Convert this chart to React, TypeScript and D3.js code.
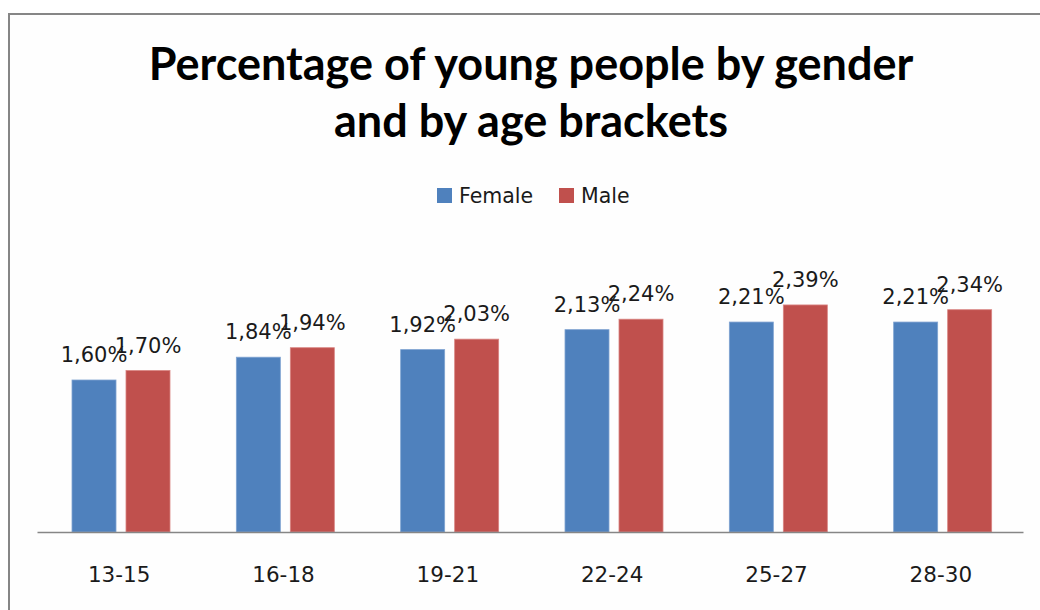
import * as d3 from "d3";
import { useEffect, useRef } from "react";

const categories = ["13-15", "16-18", "19-21", "22-24", "25-27", "28-30"];
const seriesNames = ["Female", "Male"];
const female = [1.6, 1.84, 1.92, 2.13, 2.21, 2.21];
const male = [1.7, 1.94, 2.03, 2.24, 2.39, 2.34];
const colors = ["#4F81BD", "#C0504D"];
const titleLines = ["Percentage of young people by gender", "and by age brackets"];

const fmt = (v: number) => v.toFixed(2).replace(".", ",") + "%";

export default function App() {
  const ref = useRef<SVGSVGElement>(null);

  useEffect(() => {
    if (!ref.current) return;
    const svg = d3.select(ref.current);
    svg.selectAll("*").remove();

    const width = 1040;
    const height = 610;
    const font = "'DejaVu Sans', sans-serif";

    svg.append("rect").attr("width", width).attr("height", height).attr("fill", "#fff");
    svg
      .append("rect")
      .attr("x", 9)
      .attr("y", 14)
      .attr("width", 1100)
      .attr("height", 700)
      .attr("fill", "#fefefe")
      .attr("stroke", "#868686")
      .attr("stroke-width", 2);

    // title
    svg
      .append("g")
      .selectAll("text")
      .data(titleLines)
      .join("text")
      .attr("x", 531)
      .attr("y", (_, i) => 80 + i * 57)
      .attr("text-anchor", "middle")
      .attr("font-family", "Lato, sans-serif")
      .attr("font-weight", "bold")
      .attr("font-size", 45)
      .attr("fill", "#000")
      .text((d) => d);

    const x0 = d3.scaleBand().domain(categories).range([37, 1023]).padding(0);
    const x1 = d3.scaleBand().domain(seriesNames).range([35, 133]).paddingInner(0.185);
    const y = d3.scaleLinear().domain([0, 3]).range([532, 247]);

    const rows = categories.map((c, i) => ({ cat: c, vals: [female[i], male[i]] }));

    const groups = svg
      .append("g")
      .selectAll("g")
      .data(rows)
      .join("g")
      .attr("transform", (d) => `translate(${x0(d.cat)},0)`);

    groups
      .selectAll("rect")
      .data((d) => d.vals.map((v, j) => ({ key: seriesNames[j], v, j })))
      .join("rect")
      .attr("x", (d) => x1(d.key) ?? 0)
      .attr("y", (d) => y(d.v))
      .attr("width", x1.bandwidth())
      .attr("height", (d) => y(0) - y(d.v))
      .attr("fill", (d) => colors[d.j])
      .attr("stroke", (d) => (d.j === 0 ? "#7fa3d1" : "#d98583"))
      .attr("stroke-width", 0.8);

    groups
      .selectAll("text")
      .data((d) => d.vals.map((v, j) => ({ key: seriesNames[j], v, j })))
      .join("text")
      .attr("x", (d) => (x1(d.key) ?? 0) + x1.bandwidth() / 2)
      .attr("y", (d) => y(d.v) - 18)
      .attr("text-anchor", "middle")
      .attr("font-family", font)
      .attr("font-size", 21)
      .attr("fill", "#1a1a1a")
      .text((d) => fmt(d.v));

    // x axis
    const xAxis = svg
      .append("g")
      .attr("transform", `translate(0,${y(0)})`)
      .call(d3.axisBottom(x0).tickSize(0).tickPadding(35));
    xAxis.select(".domain").attr("stroke", "#868686").attr("stroke-width", 1.5);
    xAxis
      .selectAll("text")
      .attr("font-family", font)
      .attr("font-size", 21.5)
      .attr("fill", "#1a1a1a");

    // legend
    const legendX = [437, 559];
    const lg = svg
      .append("g")
      .selectAll("g")
      .data(seriesNames)
      .join("g")
      .attr("transform", (_, i) => `translate(${legendX[i]},188)`);
    lg.append("rect")
      .attr("width", 15)
      .attr("height", 15)
      .attr("fill", (_, i) => colors[i]);
    lg.append("text")
      .attr("x", 22)
      .attr("y", 15)
      .attr("font-family", font)
      .attr("font-size", 20.5)
      .attr("fill", "#1a1a1a")
      .text((d) => d);
  }, []);

  return (
    <svg
      ref={ref}
      width={1040}
      height={610}
      style={{ position: "absolute", left: 0, top: 0 }}
    />
  );
}
